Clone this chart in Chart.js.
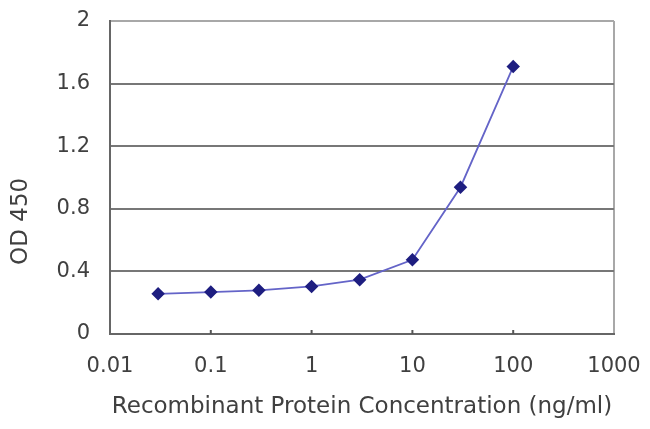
<!DOCTYPE html>
<html lang="en">
<head>
  <meta charset="UTF-8">
  <title>OD 450 vs concentration</title>
  <style>
    body {
      margin: 0;
      background: #ffffff;
    }
    #wrap {
      width: 650px;
      height: 429px;
    }
  </style>
  <script src="https://cdn.jsdelivr.net/npm/chart.js"></script>
</head>
<body>
  <div id="wrap"><canvas id="odChart" width="650" height="429"></canvas></div>

  <script>
    // concentration (ng/ml) and measured OD 450
    const concentrations = [0.03, 0.1, 0.3, 1, 3, 10, 30, 100];
    const odValues = [0.257, 0.268, 0.279, 0.304, 0.347, 0.474, 0.938, 1.709];
    const xTicks = [0.01, 0.1, 1, 10, 100, 1000];
    const xTickLabels = ['0.01', '0.1', '1', '10', '100', '1000'];
    const yTicks = [0, 0.4, 0.8, 1.2, 1.6, 2];
    const yTickLabels = ['0', '0.4', '0.8', '1.2', '1.6', '2'];

    const points = concentrations.map((c, i) => ({ x: c, y: odValues[i] }));
    const fontFamily = "'DejaVu Sans', Verdana, sans-serif";
    const tickFont = { family: fontFamily, size: 21 };
    const titleFont = { family: fontFamily, size: 23 };

    // little inner tick marks on the x axis, like the original
    const innerTicks = {
      id: 'innerTicks',
      afterDraw(chart) {
        const x = chart.scales.x;
        const c = chart.ctx;
        c.save();
        c.strokeStyle = '#555';
        c.lineWidth = 2;
        xTicks.slice(1, -1).forEach(v => {
          const px = x.getPixelForValue(v);
          c.beginPath();
          c.moveTo(px, x.top);
          c.lineTo(px, x.top - 4);
          c.stroke();
        });
        c.restore();
      }
    };

    const ctx = document.getElementById('odChart').getContext('2d');
    new Chart(ctx, {
      type: 'line',
      data: {
        datasets: [{
          data: points,
          borderColor: '#6464c8',
          borderWidth: 1.8,
          pointStyle: 'rectRot',
          pointRadius: 5.5,
          pointBackgroundColor: '#1e1e80',
          pointBorderColor: '#1e1e80',
          tension: 0
        }]
      },
      plugins: [innerTicks],
      options: {
        responsive: false,
        animation: false,
        layout: { padding: { top: 21, right: 36, left: 0, bottom: 0 } },
        plugins: {
          legend: { display: false },
          tooltip: { enabled: false }
        },
        scales: {
          x: {
            type: 'logarithmic',
            min: 0.01,
            max: 1000,
            afterBuildTicks: (scale) => {
              scale.ticks = xTicks.map(v => ({ value: v }));
            },
            afterFit: (scale) => {
              scale.height = 95;
              scale.paddingLeft = 0;
              scale.paddingRight = 0;
            },
            ticks: {
              color: '#404040',
              font: tickFont,
              padding: 20,
              maxRotation: 0,
              autoSkip: false,
              callback: (value) => {
                const i = xTicks.indexOf(value);
                return i >= 0 ? xTickLabels[i] : '';
              }
            },
            grid: {
              drawTicks: false,
              lineWidth: 2,
              color: (c) => (c.tick && c.tick.value === 1000) ? '#a8a8a8' : 'rgba(0,0,0,0)'
            },
            border: { color: '#666', width: 2 },
            title: {
              display: true,
              text: 'Recombinant Protein Concentration (ng/ml)',
              color: '#404040',
              font: titleFont,
              padding: { top: 4, bottom: 8 }
            }
          },
          y: {
            min: 0,
            max: 2,
            afterBuildTicks: (scale) => {
              scale.ticks = yTicks.map(v => ({ value: v }));
            },
            afterFit: (scale) => {
              scale.width = 110;
              scale.paddingTop = 0;
              scale.paddingBottom = 0;
            },
            ticks: {
              color: '#404040',
              font: tickFont,
              padding: 20,
              callback: (value) => {
                const i = yTicks.indexOf(value);
                return i >= 0 ? yTickLabels[i] : '';
              }
            },
            grid: {
              drawTicks: false,
              lineWidth: 2,
              color: (c) => (c.tick && c.tick.value === 2) ? '#a8a8a8' : '#777'
            },
            border: { color: '#666', width: 2 },
            title: {
              display: true,
              // trailing spaces push the title down the axis, as in the original
              text: 'OD 450            ',
              color: '#404040',
              font: titleFont,
              padding: { top: 7, bottom: 0 }
            }
          }
        }
      }
    });
  </script>
</body>
</html>
